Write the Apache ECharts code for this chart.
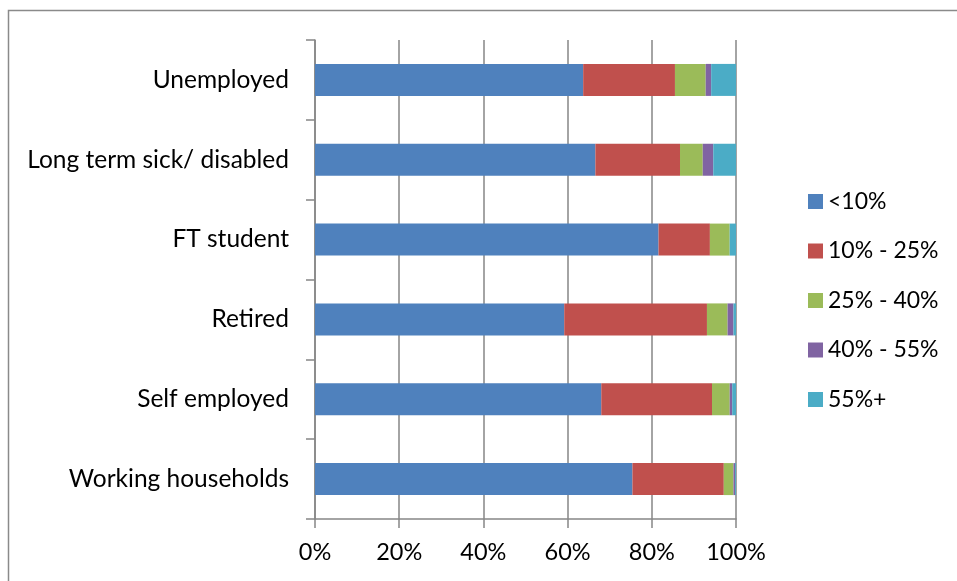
<!DOCTYPE html>
<html>
<head>
<meta charset="utf-8">
<script src="https://cdn.jsdelivr.net/npm/echarts@6/dist/echarts.min.js"></script>
<style>
  html, body { margin: 0; padding: 0; background: #ffffff; }
  #chart { width: 957px; height: 581px; }
</style>
</head>
<body>
<div id="chart"></div>
<script>
// Household groups, top to bottom
const categories = ['Unemployed', 'Long term sick/ disabled', 'FT student', 'Retired', 'Self employed', 'Working households'];

// Share of each group (%) in each band
const band1 = [63.7, 66.6, 81.6, 59.2, 68.0, 75.4];   // <10%
const band2 = [21.8, 20.1, 12.2, 33.9, 26.3, 21.7];   // 10% - 25%
const band3 = [7.3, 5.4, 4.7, 4.9, 4.2, 2.3];         // 25% - 40%
const band4 = [1.3, 2.5, 0.0, 1.4, 0.6, 0.4];         // 40% - 55%
const band5 = [5.9, 5.4, 1.5, 0.6, 0.9, 0.2];         // 55%+

const seriesNames = ['<10%', '10% - 25%', '25% - 40%', '40% - 55%', '55%+'];
const seriesData = [band1, band2, band3, band4, band5];
const colors = ['#4F81BD', '#C0504D', '#9BBB59', '#8064A2', '#4BACC6'];

const xTicks = [0, 20, 40, 60, 80, 100];

const axisGray = '#868686';
const font = 'Lato, "Open Sans", sans-serif';

const chart = echarts.init(document.getElementById('chart'), null, { renderer: 'canvas' });

chart.setOption({
  animation: false,
  backgroundColor: '#ffffff',
  color: colors,
  graphic: [{
    type: 'rect',
    shape: { x: 8.5, y: 10.5, width: 960, height: 580 },
    style: { fill: 'none', stroke: '#8a8a8a', lineWidth: 1.5 },
    silent: true
  }],
  grid: { left: 315, right: 221, top: 40, bottom: 62, containLabel: false },
  legend: {
    orient: 'vertical',
    left: 808,
    top: 190,
    padding: 0,
    itemWidth: 15,
    itemHeight: 15,
    itemGap: 26.5,
    icon: 'rect',
    data: seriesNames,
    textStyle: { fontFamily: font, fontSize: 23, color: '#000000' },
    selectedMode: false
  },
  xAxis: {
    type: 'value',
    min: xTicks[0],
    max: xTicks[xTicks.length - 1],
    interval: xTicks[1] - xTicks[0],
    axisLine: { show: true, lineStyle: { color: axisGray, width: 1.5 } },
    axisTick: { show: true, length: 9, lineStyle: { color: axisGray, width: 1.5 } },
    splitLine: { show: true, lineStyle: { color: axisGray, width: 1.5 } },
    axisLabel: {
      formatter: '{value}%',
      fontFamily: font,
      fontSize: 23.5,
      color: '#000000',
      margin: 21
    }
  },
  yAxis: {
    type: 'category',
    data: categories,
    inverse: true,
    boundaryGap: true,
    axisLine: { show: true, lineStyle: { color: axisGray, width: 1.5 } },
    axisTick: { show: true, length: 9, alignWithLabel: false, lineStyle: { color: axisGray, width: 1.5 } },
    splitLine: { show: false },
    axisLabel: {
      fontFamily: font,
      fontSize: 24.5,
      color: '#000000',
      margin: 26
    }
  },
  series: seriesNames.map((name, i) => ({
    name: name,
    type: 'bar',
    stack: 'total',
    barWidth: 32,
    data: seriesData[i],
    itemStyle: { color: colors[i] }
  }))
});
</script>
</body>
</html>
